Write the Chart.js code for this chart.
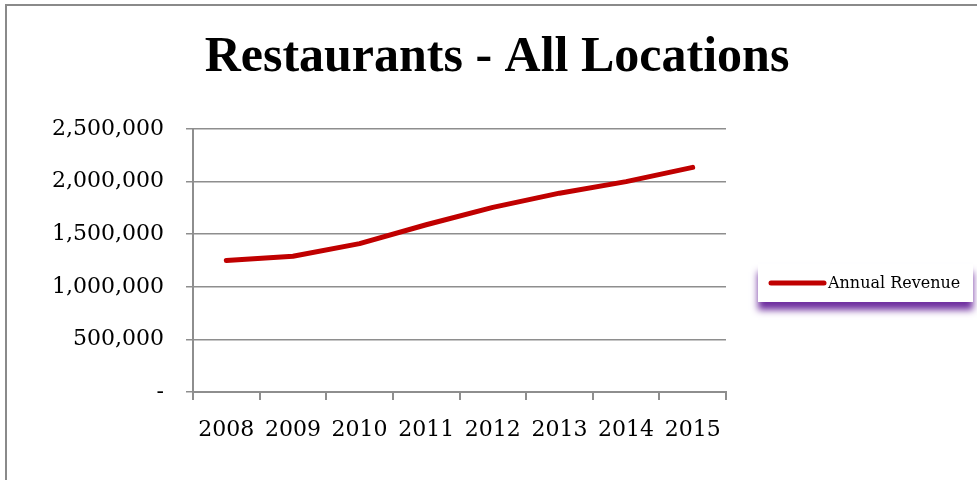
<!DOCTYPE html>
<html>
<head>
<meta charset="utf-8">
<title>Restaurants - All Locations</title>
<script src="https://cdn.jsdelivr.net/npm/chart.js@4.4.1/dist/chart.umd.min.js"></script>
<style>
  html, body { margin: 0; padding: 0; background: #fff; overflow: hidden; }
  .frame { position: absolute; left: 5px; top: 4px; width: 1200px; height: 700px; border: 2px solid #8a8a8a; }
  .wrap { position: absolute; left: 0; top: 0; width: 977px; height: 480px; }
</style>
</head>
<body>
<div class="frame"></div>
<div class="wrap"><canvas id="revenue"></canvas></div>
<script>
// ── Data ───────────────────────────────────────────────────────
const years = ['2008', '2009', '2010', '2011', '2012', '2013', '2014', '2015'];
const annualRevenue = [1250000, 1290000, 1410000, 1590000, 1755000, 1890000, 2000000, 2135000];
const seriesName = 'Annual Revenue';

const GRID = '#8e8e8e';
const SERIF = "'DejaVu Serif', serif";

// ── Boxed legend with a purple drop shadow ─────────────────────
const boxedLegend = {
  id: 'boxedLegend',
  afterDraw(chart, args, opts) {
    const { ctx } = chart;
    const ds = chart.data.datasets[0];
    const { x, y, w, h } = opts;
    ctx.save();
    ctx.shadowColor = 'rgba(112, 48, 160, 1)';
    ctx.shadowBlur = 7;
    ctx.shadowOffsetY = 8;
    ctx.fillStyle = '#fff';
    ctx.fillRect(x, y, w, h);
    ctx.restore();

    const cy = y + h / 2;
    ctx.save();
    ctx.strokeStyle = ds.borderColor;
    ctx.lineWidth = 5;
    ctx.lineCap = 'round';
    ctx.beginPath();
    ctx.moveTo(x + 13, cy);
    ctx.lineTo(x + 66, cy);
    ctx.stroke();
    ctx.fillStyle = '#000';
    ctx.font = '16px ' + SERIF;
    ctx.textBaseline = 'middle';
    ctx.fillText(ds.label, x + 70, cy + 1);
    ctx.restore();
  }
};

new Chart(document.getElementById('revenue'), {
  type: 'line',
  data: {
    labels: years,
    datasets: [{
      label: seriesName,
      data: annualRevenue,
      borderColor: '#c00000',
      borderWidth: 5,
      borderCapStyle: 'round',
      borderJoinStyle: 'round',
      pointRadius: 0,
      tension: 0,
    }]
  },
  options: {
    responsive: true,
    maintainAspectRatio: false,
    animation: false,
    layout: { padding: { left: 17, right: 0, top: 0, bottom: 0 } },
    plugins: {
      legend: { display: false },
      tooltip: { enabled: false },
      title: {
        display: true,
        text: 'Restaurants - All Locations',
        color: '#000',
        font: { family: "'Liberation Serif', serif", size: 50, weight: 'bold' },
        padding: { top: 28, bottom: 41 },
      },
      boxedLegend: { x: 758, y: 264, w: 215, h: 38 },
    },
    scales: {
      x: {
        offset: true,
        afterFit: s => { s.height = 88; },
        border: { color: GRID, width: 2 },
        grid: { offset: true, drawOnChartArea: false, drawTicks: true, tickLength: 8, color: GRID, lineWidth: 2 },
        ticks: { color: '#000', font: { family: SERIF, size: 22 }, padding: 17, maxRotation: 0 },
      },
      y: {
        min: 0,
        max: 2500000,
        afterFit: s => { s.width = 176; },
        border: { color: GRID, width: 2 },
        grid: { color: GRID, lineWidth: 1.5, tickLength: 7 },
        ticks: {
          stepSize: 500000,
          color: '#000',
          font: { family: SERIF, size: 22 },
          padding: 22,
          callback: v => v === 0 ? '-' : v.toLocaleString('en-US'),
        },
      },
      // empty right-hand axis that reserves the space the legend sits in
      side: {
        position: 'right',
        display: true,
        afterFit: s => { s.width = 251; },
        border: { display: false },
        grid: { display: false },
        ticks: { display: false },
      },
    },
  },
  plugins: [boxedLegend],
});
</script>
</body>
</html>
